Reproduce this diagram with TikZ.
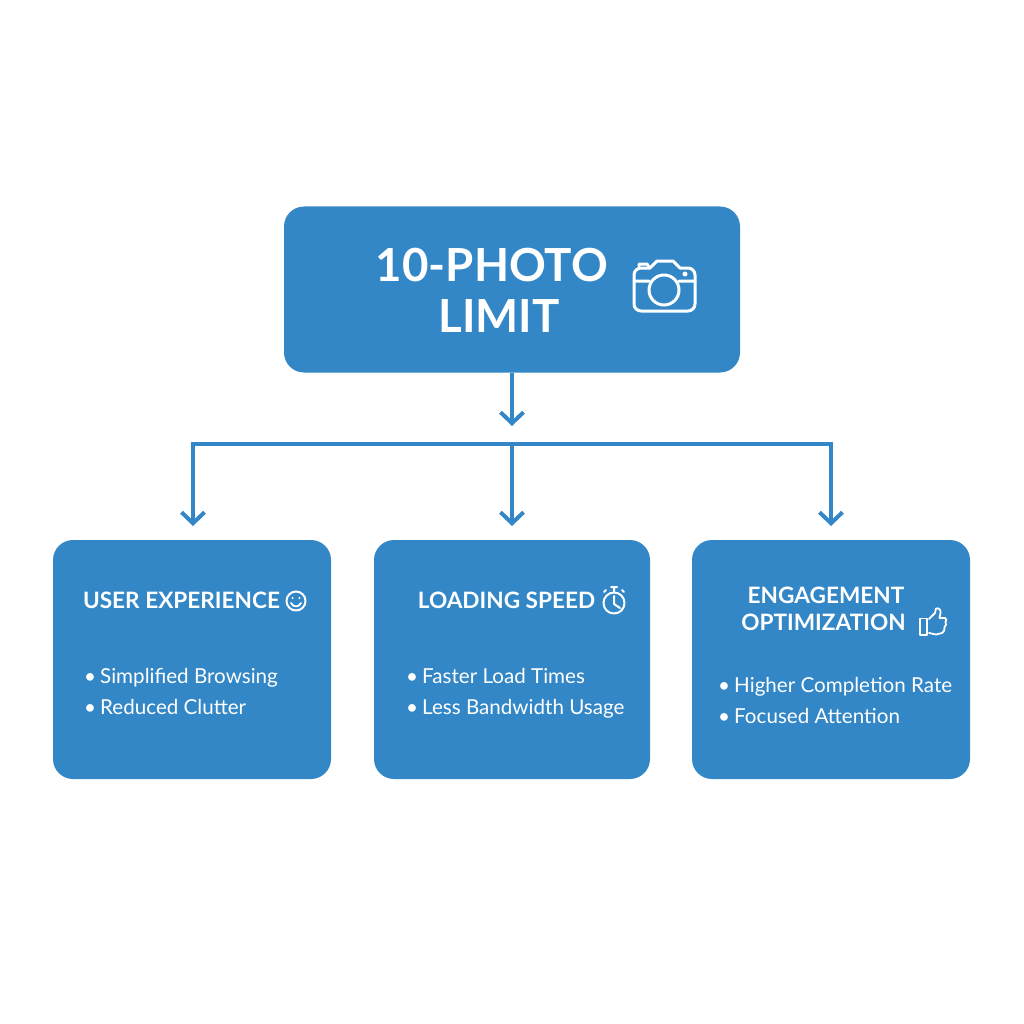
\documentclass[tikz,border=0pt]{standalone}
\usepackage{fontspec}
\setmainfont{Lato}
\usetikzlibrary{arrows.meta}
\definecolor{boxblue}{HTML}{3387C7}
\tikzset{
	card/.style={fill=boxblue, draw=none, rounded corners=20pt, minimum width=#1, inner sep=0pt},
	flowline/.style={draw=boxblue, line width=4pt},
	flowarrow/.style={flowline, -{Straight Barb[length=11pt, width=23pt, line width=4pt]}},
	bigtext/.style={text=white, font=\fontsize{45.6}{50}\selectfont\bfseries, inner sep=0pt},
	headtext/.style={text=white, font=\fontsize{22.6}{27}\selectfont\bfseries, inner sep=0pt},
	itemtext/.style={text=white, font=\fontsize{20.6}{26}\selectfont, inner sep=0pt, anchor=base west},
	iconline/.style={draw=white, line width=#1, line cap=round, line join=round},
}
\newcommand{\bulletitem}[4]% name, x, baseline y, text
{\node[itemtext] (#1dot) at (#2-16,#3) {•};
\node[itemtext] (#1) at (#2,#3) {#4};
}

\begin{document}
\begin{tikzpicture}[x=1pt,y=-1pt]
	\useasboundingbox (0,0) rectangle (1024,1024);
	\node[card=456pt, minimum height=166pt] (photo) at (512,289.5) {};
	\node[card=278pt, minimum height=239pt] (user) at (192,659.5) {};
	\node[card=276pt, minimum height=239pt] (speed) at (512,659.5) {};
	\node[card=278pt, minimum height=239pt] (engage) at (831,659.5) {};
	% connectors
	\coordinate (top tip) at (512,426);
	\coordinate (hub) at (512,444);
	\coordinate (user turn) at (193,444);
	\coordinate (engage turn) at (831,444);
	\coordinate (user tip) at (193,526);
	\coordinate (speed tip) at (512,526);
	\coordinate (engage tip) at (831,526);
	\draw[flowarrow] (photo.south) -- (top tip);
	\draw[flowarrow] (hub) -- (speed tip);
	\draw[flowline, line cap=rect] (user turn) -- (engage turn);
	\draw[flowarrow] (user turn) -- (user tip);
	\draw[flowarrow] (engage turn) -- (engage tip);
	% big box
	\node[bigtext] (photo a) at (492,265) {10-PHOTO};
	\node[bigtext] (photo b) at (499,316) {LIMIT};
	\draw[iconline=3pt] (634,275) arc (180:270:7) -- (650,268) -- (657,261) -- (673,261) -- (680,268) -- (688,268)
		arc (-90:0:7) -- (695,304) arc (0:90:7) -- (641,311) arc (90:180:7) -- cycle;
	\draw[iconline=3pt] (634,281) -- (649,281) (679,281) -- (695,281) (639,266) -- (639,264) -- (647,264) -- (649,267);
	\draw[iconline=3pt] (664,290) circle (15);
	\fill[white] (685,274) circle (2.5);
	% left box
	\node[headtext] (user head) at (181.5,600.5) {USER EXPERIENCE};
	\draw[iconline=2pt] (296,601) circle (9.5);
	\draw[iconline=1.8pt] (291,603) .. controls (293,607.5) and (299,607.5) .. (301,603);
	\fill[white] (292.5,598) circle (1.2) (299.5,598) circle (1.2);
	\bulletitem{browse}{100}{683}{Simplified Browsing}
	\bulletitem{clutter}{100}{714}{Reduced Clutter}
	% middle box
	\node[headtext] (speed head) at (506.5,600.5) {LOADING SPEED};
	\draw[iconline=2pt] (614,603) circle (10.5);
	\draw[iconline=2pt] (614,596) -- (614,604) -- (620,608) (614,592) -- (614,588) (611,587) -- (617,587) (604,592) -- (606,590) (622,590) -- (624,592);
	\bulletitem{load}{422}{683}{Faster Load Times}
	\bulletitem{band}{422}{714}{Less Bandwidth Usage}
	% right box
	\node[headtext] (engage a) at (826,595.5) {ENGAGEMENT};
	\node[headtext] (engage b) at (823.5,622) {OPTIMIZATION};
	\draw[iconline=1.8pt] (920,618.5) rectangle (927,635);
	\draw[iconline=1.8pt] (929,619) -- (935,613) -- (936,608.5) .. controls (939,607.5) and (941,610) .. (940.5,613) -- (939.5,618) -- (945,618)
		.. controls (947,618.5) and (946.5,621) .. (945.5,622) .. controls (946.5,624) and (946,626) .. (944.5,627) .. controls (945,630) and (944,632) .. (942,633) -- (936,634.5) -- (929,633);
	\bulletitem{finish}{734}{692.5}{Higher Completion Rate}
	\bulletitem{focus}{734}{723}{Focused Attention}
\end{tikzpicture}
\end{document}
